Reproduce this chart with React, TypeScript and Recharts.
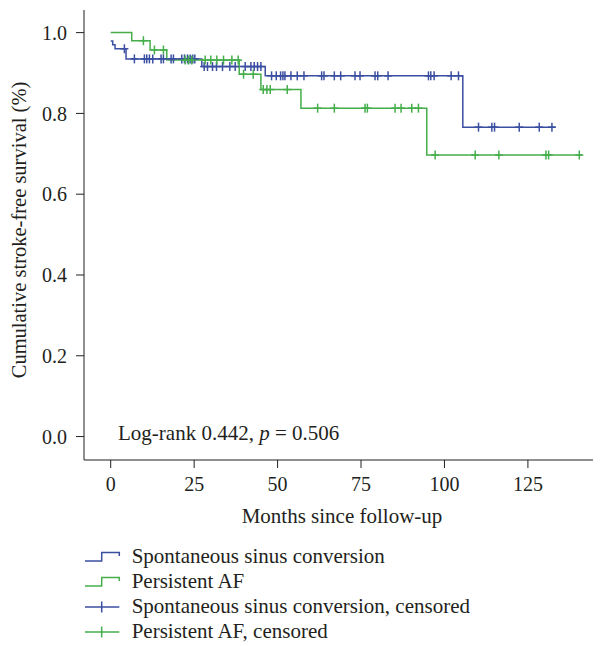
import React from "react";
import { ComposedChart, Line, Scatter, XAxis, YAxis } from "recharts";

const BLUE = "#3b4fa1";
const GREEN = "#45ae4b";
const INK = "#231f20";
const FONT = "'Liberation Serif', 'DejaVu Serif', serif";

// Kaplan-Meier step points (months, survival)
const sinusSteps = [
  { x: 0, y: 0.979 },
  { x: 0.6, y: 0.97 },
  { x: 1.3, y: 0.96 },
  { x: 4.6, y: 0.935 },
  { x: 27.3, y: 0.916 },
  { x: 46.3, y: 0.893 },
  { x: 105.5, y: 0.766 },
  { x: 133.2, y: 0.766 },
];
const afSteps = [
  { x: 0, y: 1.0 },
  { x: 6.3, y: 0.98 },
  { x: 11.8, y: 0.957 },
  { x: 16.8, y: 0.932 },
  { x: 38.5, y: 0.897 },
  { x: 45.0, y: 0.859 },
  { x: 57.0, y: 0.813 },
  { x: 94.7, y: 0.697 },
  { x: 141.2, y: 0.697 },
];

// Censored times (months)
const sinusCensoredTimes = [
  4.1, 7.1, 10.1, 10.8, 11.6, 12.6, 15.1, 15.8, 18.1, 18.8, 21.3, 22.1, 23.0, 23.8, 24.6, 25.2,
  28, 29, 30.5, 31.7, 33.5, 35.7, 37.3, 40.3, 42, 43, 44, 45,
  48.2, 49.6, 50.9, 51.6, 52.2, 54.0, 55.9, 57.9, 63.2, 63.9, 67.0, 68.9, 73.2, 74.7, 79.2, 80.0,
  83.1, 95.2, 95.9, 96.9, 102.0, 104.2,
  110.2, 114.2, 115.0, 122.4, 128.4, 132.2,
];
const afCensoredTimes = [
  9.8, 13.1, 15.8, 22.3, 23.3, 24.3, 28.3, 30.0, 31.8, 33.8, 36.3, 38.2, 39.8, 42.7,
  45.7, 46.8, 47.8, 52.9, 62.0, 67.0, 76.2, 76.9, 85.2, 87.0, 90.2, 92.2,
  97.2, 109.2, 116.3, 130.4, 131.2, 140.4,
];

const xTicks = [0, 25, 50, 75, 100, 125];
const yTicks = [0, 0.2, 0.4, 0.6, 0.8, 1.0];
const seriesNames = ["Spontaneous sinus conversion", "Persistent AF"];
const xLabel = "Months since follow-up";
const yLabel = "Cumulative stroke-free survival (%)";

const X_DOMAIN: [number, number] = [-8, 146.6];
const Y_DOMAIN: [number, number] = [-0.058, 1.056];

function levelAt(steps: { x: number; y: number }[], t: number) {
  let s = steps[0].y;
  for (const p of steps) if (p.x <= t) s = p.y;
  return s;
}

const sinusCensored = sinusCensoredTimes.map((t) => ({ x: t, y: levelAt(sinusSteps, t) }));
const afCensored = afCensoredTimes.map((t) => ({ x: t, y: levelAt(afSteps, t) }));

const plusShape = (color: string) => (props: any) => {
  const { cx, cy } = props;
  if (cx == null || cy == null) return <g />;
  return (
    <g stroke={color} strokeWidth={1.5}>
      <line x1={cx} y1={cy - 4.5} x2={cx} y2={cy + 4.5} />
      <line x1={cx - 4} y1={cy} x2={cx + 4} y2={cy} />
    </g>
  );
};

const legendItems = [
  { label: seriesNames[0], color: BLUE, kind: "step" },
  { label: seriesNames[1], color: GREEN, kind: "step" },
  { label: seriesNames[0] + ", censored", color: BLUE, kind: "plus" },
  { label: seriesNames[1] + ", censored", color: GREEN, kind: "plus" },
];

export default function App() {
  return (
    <div style={{ position: "relative", width: 593, height: 638 }}>
      <ComposedChart
        width={593}
        height={520}
        margin={{ top: 2, right: 1, bottom: 0, left: 0 }}
        style={{ overflow: "visible" }}
      >
        <XAxis
          dataKey="x"
          type="number"
          domain={X_DOMAIN}
          ticks={xTicks}
          allowDataOverflow
          height={68}
          tickSize={8}
          tickMargin={9}
          stroke={INK}
          tick={{ fill: INK, fontSize: 20, fontFamily: FONT }}
          label={{
            value: xLabel,
            position: "insideBottom",
            offset: 5,
            fill: INK,
            fontSize: 21,
            fontFamily: FONT,
          }}
        />
        <XAxis
          xAxisId="top"
          orientation="top"
          type="number"
          domain={X_DOMAIN}
          allowDataOverflow
          tick={false}
          tickLine={false}
          height={0}
          stroke={INK}
        />
        <YAxis
          type="number"
          domain={Y_DOMAIN}
          ticks={yTicks}
          allowDataOverflow
          width={76}
          tickSize={8}
          tickMargin={9}
          stroke={INK}
          tickFormatter={(v: number) => v.toFixed(1)}
          tick={{ fill: INK, fontSize: 20, fontFamily: FONT }}
          label={{
            content: (props: any) => {
              const vb = props.viewBox || { x: 0, y: 0, width: 76, height: 450 };
              const cx = 11;
              const cy = vb.y + vb.height / 2 - 5;
              return (
                <text
                  x={cx}
                  y={cy}
                  transform={`rotate(-90 ${cx} ${cy})`}
                  textAnchor="middle"
                  dominantBaseline="central"
                  fill={INK}
                  fontSize={20.5}
                  fontFamily={FONT}
                >
                  {yLabel}
                </text>
              );
            },
          }}
        />
        <Line
          data={sinusSteps}
          dataKey="y"
          type="stepAfter"
          stroke={BLUE}
          strokeWidth={1.5}
          dot={false}
          activeDot={false}
          isAnimationActive={false}
          name={seriesNames[0]}
        />
        <Line
          data={afSteps}
          dataKey="y"
          type="stepAfter"
          stroke={GREEN}
          strokeWidth={1.5}
          dot={false}
          activeDot={false}
          isAnimationActive={false}
          name={seriesNames[1]}
        />
        <Scatter
          data={sinusCensored}
          dataKey="y"
          shape={plusShape(BLUE)}
          isAnimationActive={false}
          name={seriesNames[0] + ", censored"}
        />
        <Scatter
          data={afCensored}
          dataKey="y"
          shape={plusShape(GREEN)}
          isAnimationActive={false}
          name={seriesNames[1] + ", censored"}
        />
      </ComposedChart>
      <div
        style={{
          position: "absolute",
          left: 110,
          top: 413,
          fontFamily: FONT,
          fontSize: 21,
          color: INK,
          whiteSpace: "nowrap",
          lineHeight: "24px",
        }}
      >
        Log-rank 0.442, <i>p</i> = 0.506
      </div>
      <svg
        width={593}
        height={110}
        style={{ position: "absolute", left: 0, top: 528 }}
      >
        {legendItems.map((it, i) => {
          const base = 27 + i * 25;
          const c = base - 6;
          return (
            <g key={i}>
              {it.kind === "step" ? (
                <polyline
                  points={`77,${c + 4} 93.7,${c + 4} 93.7,${c - 4.5} 111.3,${c - 4.5} 111.3,${c - 1}`}
                  fill="none"
                  stroke={it.color}
                  strokeWidth={1.5}
                />
              ) : (
                <g stroke={it.color} strokeWidth={1.5}>
                  <line x1={77} y1={c} x2={111.3} y2={c} />
                  <line x1={93.7} y1={c - 5.5} x2={93.7} y2={c + 5.5} />
                </g>
              )}
              <text x={123.7} y={base} fill={INK} fontSize={21} fontFamily={FONT}>
                {it.label}
              </text>
            </g>
          );
        })}
      </svg>
    </div>
  );
}
